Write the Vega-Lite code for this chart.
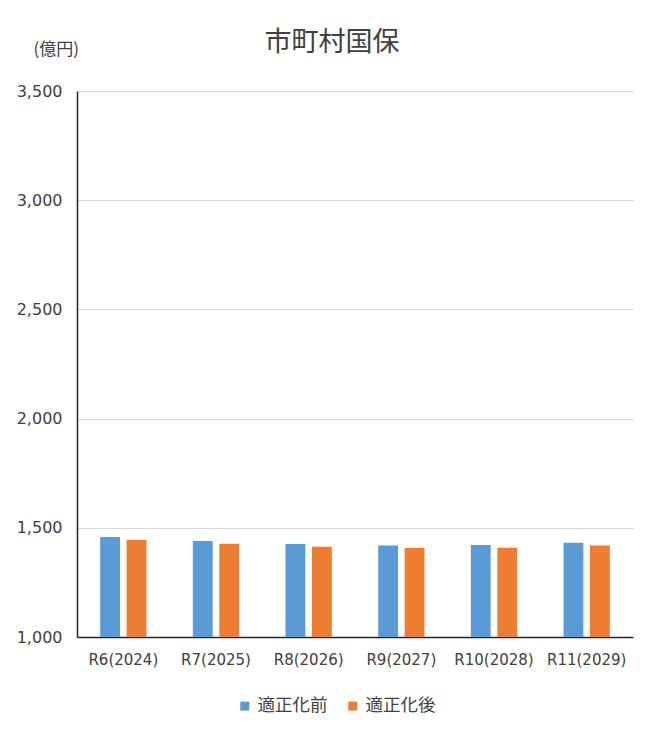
{
  "$schema": "https://vega.github.io/schema/vega-lite/v6.json",
  "width": 556,
  "height": 546,
  "autosize": "none",
  "padding": {"left": 77, "top": 91, "right": 12, "bottom": 96},
  "background": "white",
  "title": {
    "text": "市町村国保",
    "anchor": "middle",
    "fontSize": 27,
    "fontWeight": "normal",
    "font": "Noto Sans CJK JP",
    "color": "#404040",
    "offset": -17,
    "dx": -23
  },
  "data": {
    "values": [
      {"year": "R6(2024)", "series": "適正化前", "value": 1458},
      {"year": "R6(2024)", "series": "適正化後", "value": 1444},
      {"year": "R7(2025)", "series": "適正化前", "value": 1440},
      {"year": "R7(2025)", "series": "適正化後", "value": 1427},
      {"year": "R8(2026)", "series": "適正化前", "value": 1426},
      {"year": "R8(2026)", "series": "適正化後", "value": 1413},
      {"year": "R9(2027)", "series": "適正化前", "value": 1419},
      {"year": "R9(2027)", "series": "適正化後", "value": 1407},
      {"year": "R10(2028)", "series": "適正化前", "value": 1421},
      {"year": "R10(2028)", "series": "適正化後", "value": 1409},
      {"year": "R11(2029)", "series": "適正化前", "value": 1432},
      {"year": "R11(2029)", "series": "適正化後", "value": 1419}
    ]
  },
  "mark": {"type": "bar", "clip": true},
  "encoding": {
    "x": {
      "field": "year",
      "type": "nominal",
      "sort": null,
      "scale": {"paddingInner": 0.5, "paddingOuter": 0.25},
      "axis": {
        "title": null,
        "labelAngle": 0,
        "labelFontSize": 15,
        "labelFont": "DejaVu Sans",
        "labelColor": "#404040",
        "labelPadding": 15,
        "ticks": false,
        "domainColor": "#262626",
        "domainWidth": 1.5
      }
    },
    "xOffset": {
      "field": "series",
      "type": "nominal",
      "sort": ["適正化前", "適正化後"],
      "scale": {"paddingInner": 0.25}
    },
    "y": {
      "field": "value",
      "type": "quantitative",
      "scale": {"domain": [1000, 3500], "nice": false, "zero": false},
      "axis": {
        "values": [1000, 1500, 2000, 2500, 3000, 3500],
        "format": ",d",
        "title": "(億円)",
        "titleAngle": 0,
        "titleAlign": "left",
        "titleBaseline": "middle",
        "titleX": -44,
        "titleY": -42,
        "titleFontSize": 17,
        "titleFontWeight": "normal",
        "titleFont": "Noto Sans CJK JP",
        "titleColor": "#404040",
        "labelFontSize": 16,
        "labelFont": "DejaVu Sans",
        "labelColor": "#404040",
        "labelPadding": 15,
        "ticks": false,
        "domainColor": "#262626",
        "domainWidth": 1.5,
        "gridColor": "#d9d9d9",
        "gridWidth": 1.2
      }
    },
    "color": {
      "field": "series",
      "type": "nominal",
      "sort": ["適正化前", "適正化後"],
      "scale": {"domain": ["適正化前", "適正化後"], "range": ["#5B9BD5", "#ED7D31"]},
      "legend": {
        "title": null,
        "orient": "none",
        "legendX": 159,
        "legendY": 606,
        "direction": "horizontal",
        "symbolType": "square",
        "symbolSize": 81,
        "symbolStrokeWidth": 0,
        "labelFontSize": 17.5,
        "labelFont": "Noto Sans CJK JP",
        "labelColor": "#404040",
        "labelOffset": 4,
        "columnPadding": 16
      }
    }
  },
  "config": {"view": {"stroke": null}}
}
